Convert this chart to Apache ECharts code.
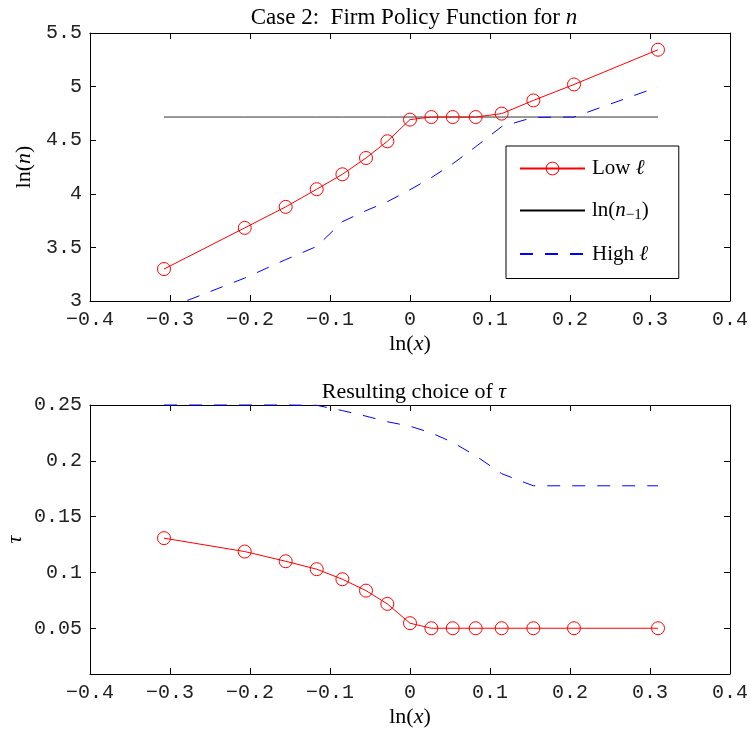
<!DOCTYPE html>
<html>
<head>
<meta charset="utf-8">
<script src="https://cdn.jsdelivr.net/npm/echarts@6/dist/echarts.min.js"></script>
<style>
html,body{margin:0;padding:0;background:#fff;}
#chart{width:750px;height:736px;}
</style>
</head>
<body>
<div id="chart"></div>
<script>
// ---- data ----
const lnX = [-0.3075, -0.2066, -0.1554, -0.1166, -0.0845, -0.055, -0.0283, 0, 0.0267, 0.0534, 0.0821, 0.1146, 0.1542, 0.205, 0.31];
const lnNLow = [3.298, 3.682, 3.878, 4.043, 4.182, 4.334, 4.49, 4.692, 4.716, 4.716, 4.716, 4.748, 4.871, 5.02, 5.344];
const lnNPrev = [4.716, 4.716, 4.716, 4.716, 4.716, 4.716, 4.716, 4.716, 4.716, 4.716, 4.716, 4.716, 4.716, 4.716, 4.716];
const lnNHigh = [2.92, 3.214, 3.386, 3.509, 3.74, 3.843, 3.926, 4.038, 4.151, 4.28, 4.439, 4.627, 4.713, 4.716, 4.997];
const tauLow = [0.1307, 0.1187, 0.110, 0.1029, 0.0939, 0.0837, 0.0718, 0.0545, 0.05, 0.05, 0.05, 0.05, 0.05, 0.05, 0.05];
const tauHigh = [0.25, 0.25, 0.25, 0.2497, 0.245, 0.240, 0.235, 0.231, 0.225, 0.2165, 0.2045, 0.1885, 0.1776, 0.1776, 0.1776];
const tauTicks = [0.05, 0.1, 0.15, 0.2, 0.25];
const seriesNames = ['Low ℓ', 'ln(n−1)', 'High ℓ'];

const pair = (xs, ys) => xs.map((x, i) => [x, ys[i]]);

const SERIF = '"Liberation Serif", "Times New Roman", serif';
const MONO = '"Liberation Mono", "DejaVu Sans Mono", monospace';
function richSet(fs) {
  return {
    r: {fontFamily: SERIF, fontSize: fs, fontWeight: 'normal', color: '#000'},
    i: {fontFamily: SERIF, fontSize: fs, fontWeight: 'normal', fontStyle: 'italic', color: '#000'},
    s: {fontFamily: SERIF, fontSize: Math.round(fs * 0.7), fontWeight: 'normal', color: '#000', padding: [9, 0, 0, 0]}
  };
}
const richTitle1 = richSet(23);
const richTitle2 = richSet(22);
const richName = richSet(22);
const richLegend = richSet(21);
function fmt(v) {
  let r = Math.round(v * 100) / 100;
  let s = String(Math.abs(r));
  return (r < 0 ? '−' : '') + s;
}
const tickStyle = {show: true, inside: true, length: 6, lineStyle: {color: '#000', width: 1}};
const lineAx = {show: true, onZero: false, lineStyle: {color: '#000', width: 1}};
const lblStyle = {fontFamily: MONO, fontSize: 20, color: '#222', margin: 9};

function xAxes(gi) {
  return [
    {type: 'value', gridIndex: gi, min: -0.4, max: 0.4, interval: 0.1, position: 'bottom',
     axisLine: lineAx, axisTick: tickStyle, splitLine: {show: false},
     axisLabel: Object.assign({formatter: fmt}, lblStyle),
     name: '{r|ln(}{i|x}{r|)}', nameLocation: 'middle', nameGap: 32,
     nameTextStyle: {rich: richName}},
    {type: 'value', gridIndex: gi, min: -0.4, max: 0.4, interval: 0.1, position: 'top',
     axisLine: lineAx, axisTick: tickStyle, splitLine: {show: false}, axisLabel: {show: false}}
  ];
}

const option = {
  animation: false,
  backgroundColor: '#fff',
  title: [
    {text: '{r|Case 2:  Firm Policy Function for }{i|n}', left: 409, top: 1, textAlign: 'center',
     textStyle: {rich: richTitle1}},
    {text: '{r|Resulting choice of }{i|τ}', left: 409, top: 376, textAlign: 'center',
     textStyle: {rich: richTitle2}}
  ],
  grid: [
    {left: 90, right: 20, top: 33, height: 268, outerBoundsMode: 'none', containLabel: false},
    {left: 90, right: 20, top: 405, height: 269, outerBoundsMode: 'none', containLabel: false}
  ],
  xAxis: [].concat(xAxes(0), xAxes(1)),
  yAxis: [
    {type: 'value', gridIndex: 0, min: 3, max: 5.5, interval: 0.5, position: 'left',
     axisLine: lineAx, axisTick: tickStyle, splitLine: {show: false},
     axisLabel: Object.assign({formatter: fmt}, lblStyle, {margin: 8}),
     name: '{r|ln(}{i|n}{r|)}', nameLocation: 'middle', nameGap: 55, nameRotate: 90,
     nameTextStyle: {rich: richName}},
    {type: 'value', gridIndex: 0, min: 3, max: 5.5, interval: 0.5, position: 'right',
     axisLine: lineAx, axisTick: tickStyle, splitLine: {show: false}, axisLabel: {show: false}},
    {type: 'value', gridIndex: 1, min: 0.009, max: 0.25, position: 'left',
     axisLine: lineAx, axisTick: Object.assign({customValues: tauTicks}, tickStyle), splitLine: {show: false},
     axisLabel: Object.assign({customValues: tauTicks, formatter: fmt}, lblStyle, {margin: 8}),
     name: '{i|τ}', nameLocation: 'middle', nameGap: 64, nameRotate: 90, nameMoveOverlap: false,
     nameTextStyle: {rich: richName}},
    {type: 'value', gridIndex: 1, min: 0.009, max: 0.25, position: 'right',
     axisLine: lineAx, axisTick: Object.assign({customValues: tauTicks}, tickStyle), splitLine: {show: false}, axisLabel: {show: false}}
  ],
  legend: {
    data: [
      {name: seriesNames[0], itemStyle: {color: 'rgba(0,0,0,0)', borderColor: '#ff0000', borderWidth: 1}},
      {name: seriesNames[1], itemStyle: {color: 'rgba(0,0,0,0)', borderColor: 'rgba(0,0,0,0)', borderWidth: 0}, lineStyle: {color: '#000'}},
      {name: seriesNames[2], itemStyle: {color: 'rgba(0,0,0,0)', borderColor: 'rgba(0,0,0,0)', borderWidth: 0}}
    ],
    orient: 'vertical',
    left: 506, top: 146,
    itemWidth: 65, itemHeight: 16, itemGap: 21,
    padding: [12, 30, 14, 13],
    borderColor: '#000', borderWidth: 1, borderRadius: 0,
    backgroundColor: '#fff',
    formatter: function (name) {
      if (name === 'Low ℓ') return '{r|Low }{i|ℓ}';
      if (name === 'High ℓ') return '{r|High }{i|ℓ}';
      return '{r|ln(}{i|n}{s|−1}{r|)}';
    },
    textStyle: {rich: richLegend, padding: [0, 0, 0, 2]}
  },
  series: [
    {name: seriesNames[0], type: 'line', xAxisIndex: 0, yAxisIndex: 0, data: pair(lnX, lnNLow),
     symbol: 'circle', symbolSize: 13, z: 5,
     itemStyle: {color: 'rgba(0,0,0,0)', borderColor: '#ff0000', borderWidth: 1},
     lineStyle: {color: '#ff0000', width: 1}},
    {name: seriesNames[1], type: 'line', xAxisIndex: 0, yAxisIndex: 0, data: pair(lnX, lnNPrev),
     symbol: 'none', itemStyle: {color: '#333'}, lineStyle: {color: '#333', width: 1}, z: 3},
    {name: seriesNames[2], type: 'line', xAxisIndex: 0, yAxisIndex: 0, data: pair(lnX, lnNHigh),
     symbol: 'none', itemStyle: {color: '#0000ff'}, lineStyle: {color: '#0000ff', width: 1, type: [13, 12]}, clip: true, z: 4},
    {name: seriesNames[0], type: 'line', xAxisIndex: 2, yAxisIndex: 2, data: pair(lnX, tauLow),
     symbol: 'circle', symbolSize: 13, z: 5,
     itemStyle: {color: 'rgba(0,0,0,0)', borderColor: '#ff0000', borderWidth: 1},
     lineStyle: {color: '#ff0000', width: 1}},
    {name: seriesNames[2], type: 'line', xAxisIndex: 2, yAxisIndex: 2, data: pair(lnX, tauHigh),
     symbol: 'none', itemStyle: {color: '#0000ff'}, lineStyle: {color: '#0000ff', width: 1, type: [13, 12]}, clip: false, z: 4}
  ]
};
const chart = echarts.init(document.getElementById('chart'), null, {renderer: 'canvas'});
chart.setOption(option);
</script>
</body>
</html>
